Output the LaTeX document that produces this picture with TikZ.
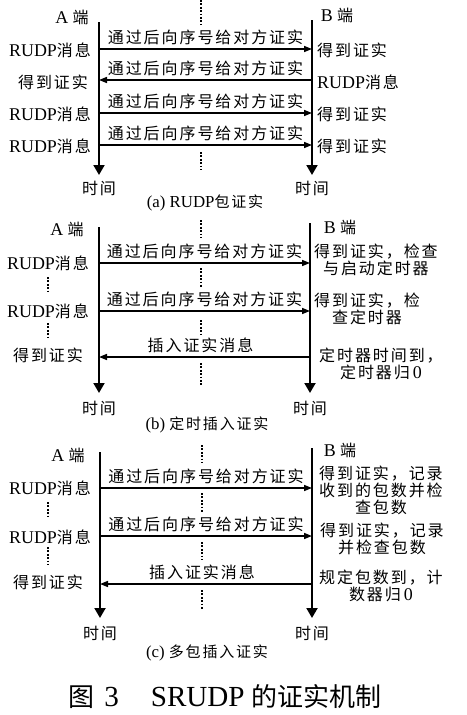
\documentclass[tikz,border=0pt]{standalone}
\usepackage{fontspec}
\setmainfont{Liberation Serif}[Scale=1.12]
\newfontfamily\cjkfont[LetterSpace=12]{Noto Sans CJK SC}
\newfontfamily\cjkplain{Noto Sans CJK SC}
\newcommand\zh[1]{{\cjkfont #1}}
\usetikzlibrary{arrows.meta}
\begin{document}
\begin{tikzpicture}[x=1pt,y=-1pt,
  life/.style={line width=2pt,-{Triangle[width=11pt,length=10pt]}},
  msg/.style={line width=1.5pt,-{Triangle[width=6pt,length=8pt]}},
  dots/.style={line width=1.6pt,dash pattern=on 1.8pt off 1.6pt},
  txt/.style={font=\fontsize{16}{17}\selectfont, inner sep=1pt},
  lbl/.style={font=\fontsize{16}{17}\selectfont, inner sep=1pt, above=2pt},
  captxt/.style={font=\fontsize{15}{17}\selectfont, inner sep=1pt}]
\useasboundingbox (0,0) rectangle (466,715);
\fill[white] (0,0) rectangle (466,715);

% ---------------- panel (a) ----------------
\coordinate (aAt) at (99,22);  \coordinate (aAb) at (99,175);
\coordinate (aBt) at (312,20); \coordinate (aBb) at (312,175);
\draw[life] (aAt) -- (aAb);
\draw[life] (aBt) -- (aBb);
\node[txt] (aA) at (72,17) {A \zh{端}};
\node[txt] (aB) at (337,15) {B \zh{端}};
\draw[dots] (201,0) -- (201,25);
\draw[dots] (201,152) -- (201,170);
\coordinate (a1l) at (99,49);  \coordinate (a1r) at (312,49);
\coordinate (a2l) at (99,80);  \coordinate (a2r) at (312,80);
\coordinate (a3l) at (99,113); \coordinate (a3r) at (312,113);
\coordinate (a4l) at (99,145); \coordinate (a4r) at (312,145);
\draw[msg] (a1l) -- (a1r) node[lbl,midway] {\zh{通过后向序号给对方证实}};
\draw[msg] (a2r) -- (a2l) node[lbl,midway] {\zh{通过后向序号给对方证实}};
\draw[msg] (a3l) -- (a3r) node[lbl,midway] {\zh{通过后向序号给对方证实}};
\draw[msg] (a4l) -- (a4r) node[lbl,midway] {\zh{通过后向序号给对方证实}};
\node[txt] (a1L) at (50,50) {RUDP\zh{消息}};
\node[txt] (a2L) at (53,82) {\zh{得到证实}};
\node[txt] (a3L) at (50,114) {RUDP\zh{消息}};
\node[txt] (a4L) at (50,146) {RUDP\zh{消息}};
\node[txt,anchor=west] (a1R) at (316,50) {\zh{得到证实}};
\node[txt,anchor=west] (a2R) at (316,82) {RUDP\zh{消息}};
\node[txt,anchor=west] (a3R) at (316,114) {\zh{得到证实}};
\node[txt,anchor=west] (a4R) at (316,146) {\zh{得到证实}};
\node[txt] (aTA) at (99,188) {\zh{时间}};
\node[txt] (aTB) at (312,188) {\zh{时间}};
\node[captxt] (aC) at (205,203) {(a) RUDP\zh{包证实}};

% ---------------- panel (b) ----------------
\coordinate (bAt) at (99,227);  \coordinate (bAb) at (99,393);
\coordinate (bBt) at (310,223); \coordinate (bBb) at (310,393);
\draw[life] (bAt) -- (bAb);
\draw[life] (bBt) -- (bBb);
\node[txt] (bA) at (67,229) {A \zh{端}};
\node[txt] (bB) at (340,227) {B \zh{端}};
\draw[dots] (201,220) -- (201,238);
\draw[dots] (201,268) -- (201,287);
\draw[dots] (201,320) -- (201,334);
\draw[dots] (201,363) -- (201,385);
\draw[dots] (48,277) -- (48,293);
\draw[dots] (48,323) -- (48,338);
\coordinate (b1l) at (99,263);  \coordinate (b1r) at (310,263);
\coordinate (b2l) at (99,311);  \coordinate (b2r) at (310,311);
\coordinate (b3l) at (99,357);  \coordinate (b3r) at (310,357);
\draw[msg] (b1l) -- (b1r) node[lbl,midway] {\zh{通过后向序号给对方证实}};
\draw[msg] (b2l) -- (b2r) node[lbl,midway] {\zh{通过后向序号给对方证实}};
\draw[msg] (b3r) -- (b3l) node[lbl,midway,xshift=-4pt] {\zh{插入证实消息}};
\node[txt] (b1L) at (48,263) {RUDP\zh{消息}};
\node[txt] (b2L) at (48,311) {RUDP\zh{消息}};
\node[txt] (b3L) at (48,355) {\zh{得到证实}};
\node[txt,anchor=west,align=center] (b1R) at (313,260) {\zh{得到证实，检查}\\\zh{与启动定时器}};
\node[txt,anchor=west,align=center] (b2R) at (313,309) {\zh{得到证实，检}\\\zh{查定时器}};
\node[txt,anchor=west,align=center] (b3R) at (318,363.5) {\zh{定时器时间到，}\\\zh{定时器归}\,0};
\node[txt] (bTA) at (99,408) {\zh{时间}};
\node[txt] (bTB) at (310,408) {\zh{时间}};
\node[captxt] (bC) at (207,425) {(b) \zh{定时插入证实}};

% ---------------- panel (c) ----------------
\coordinate (cAt) at (100,452); \coordinate (cAb) at (100,618);
\coordinate (cBt) at (312,448); \coordinate (cBb) at (312,618);
\draw[life] (cAt) -- (cAb);
\draw[life] (cBt) -- (cBb);
\node[txt] (cA) at (68,455) {A \zh{端}};
\node[txt] (cB) at (340,450) {B \zh{端}};
\draw[dots] (202,445) -- (202,463);
\draw[dots] (202,493) -- (202,513);
\draw[dots] (202,542) -- (202,560);
\draw[dots] (202,590) -- (202,610);
\draw[dots] (48,502) -- (48,518);
\draw[dots] (48,547) -- (48,565);
\coordinate (c1l) at (100,488); \coordinate (c1r) at (312,488);
\coordinate (c2l) at (100,536); \coordinate (c2r) at (312,536);
\coordinate (c3l) at (100,584); \coordinate (c3r) at (312,584);
\draw[msg] (c1l) -- (c1r) node[lbl,midway] {\zh{通过后向序号给对方证实}};
\draw[msg] (c2l) -- (c2r) node[lbl,midway] {\zh{通过后向序号给对方证实}};
\draw[msg] (c3r) -- (c3l) node[lbl,midway,xshift=-4pt] {\zh{插入证实消息}};
\node[txt] (c1L) at (50,488) {RUDP\zh{消息}};
\node[txt] (c2L) at (50,537) {RUDP\zh{消息}};
\node[txt] (c3L) at (48,582) {\zh{得到证实}};
\node[txt,anchor=west,align=center] (c1R) at (318,490) {\zh{得到证实，记录}\\\zh{收到的包数并检}\\\zh{查包数}};
\node[txt,anchor=west,align=center] (c2R) at (319,538.5) {\zh{得到证实，记录}\\\zh{并检查包数}};
\node[txt,anchor=west,align=center] (c3R) at (318,586) {\zh{规定包数到，计}\\\zh{数器归}\,0};
\node[txt] (cTA) at (100,633) {\zh{时间}};
\node[txt] (cTB) at (312,633) {\zh{时间}};
\node[captxt] (cC) at (207,653) {(c) \zh{多包插入证实}};

% ---------------- title ----------------
\node[font=\fontsize{26}{30}\selectfont, inner sep=0pt] (title) at (225,697)
  {{\cjkplain 图}\hspace{10pt}3\hspace{32pt}SRUDP\hspace{7pt}{\cjkplain 的证实机制}};
\end{tikzpicture}
\end{document}
